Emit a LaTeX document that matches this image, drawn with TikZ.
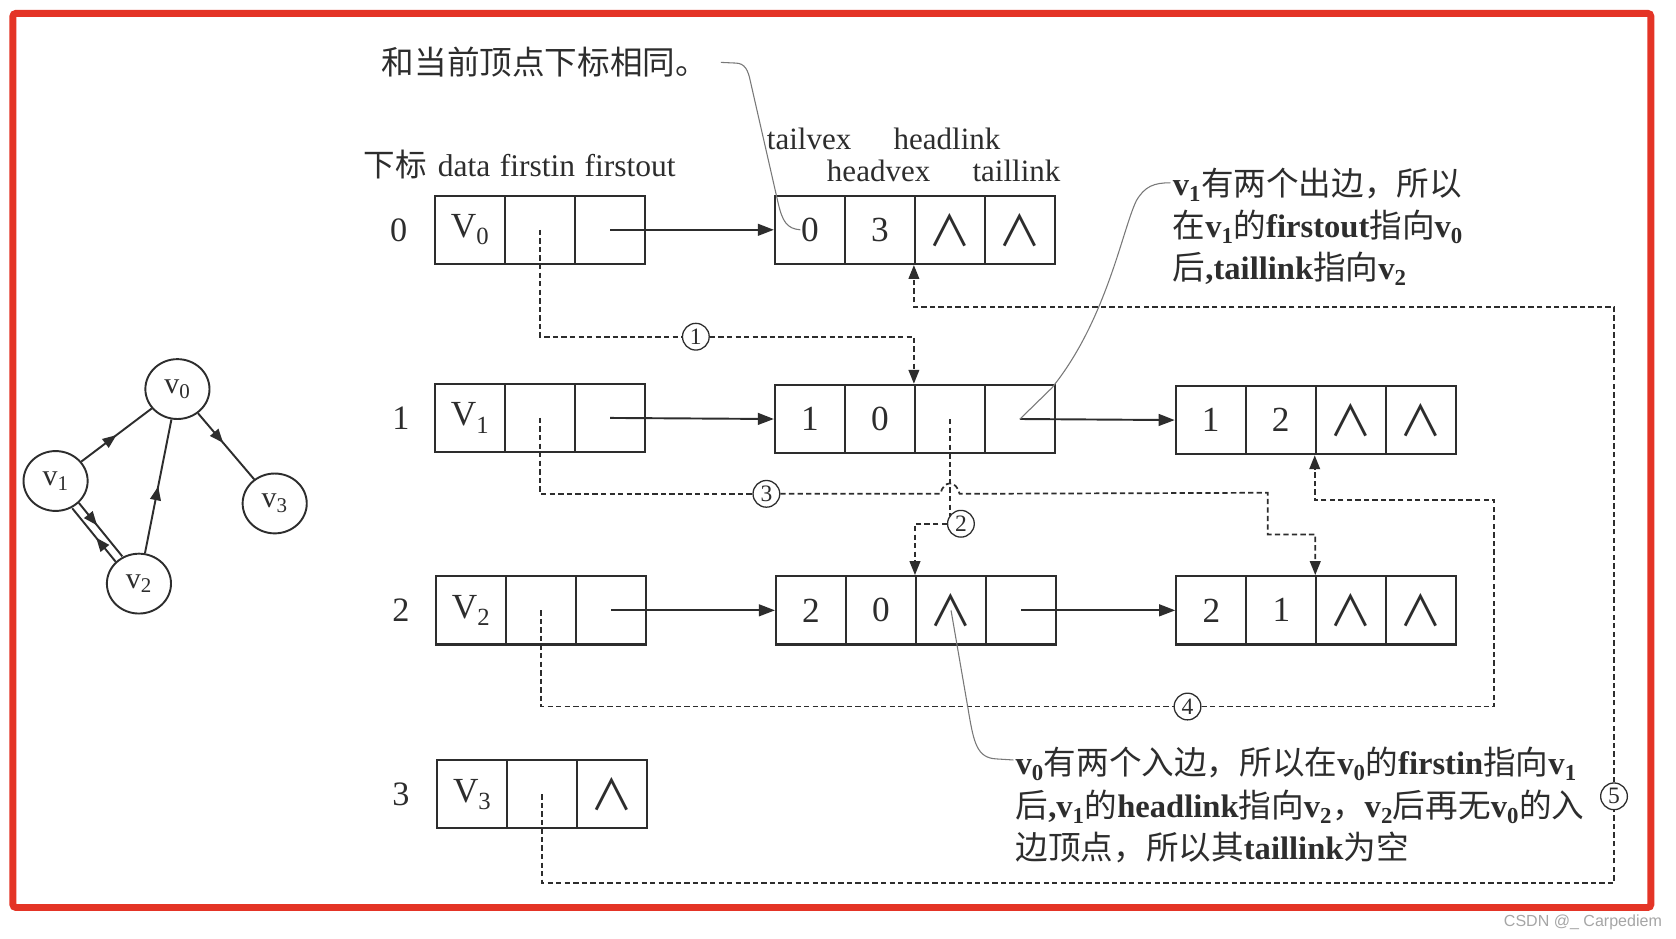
\documentclass[tikz,border=0pt]{standalone}
\usepackage{fontspec}
\setmainfont{Liberation Serif}
\newfontfamily\cjk{Noto Sans CJK SC}
\newfontfamily\dvs{DejaVu Sans}
\newfontfamily\wmfont{Liberation Sans}
\usetikzlibrary{arrows.meta,shapes.geometric,decorations.markings,calc}
\definecolor{ink}{RGB}{45,45,45}
\definecolor{frame}{RGB}{228,52,38}
\definecolor{thin}{RGB}{120,120,120}
\newcommand{\zh}[1]{{\cjk\mdseries #1}}
\newcommand{\tsub}[1]{\textsubscript{#1}}
\newcommand{\vsub}[1]{v\textsubscript{#1}}
\newcommand{\andsym}{{\cjk\fontsize{40}{40}\selectfont ∧}}
\tikzset{
 cell/.style={draw=ink, line width=2pt, minimum width=65.5pt, minimum height=64pt, inner sep=0pt, text=ink, font=\fontsize{33}{36}\selectfont},
 txt/.style={inner sep=0pt, text=ink, font=\fontsize{29}{32}\selectfont},
 arr/.style={draw=ink, line width=1.8pt, -{Triangle[length=15pt,width=11pt]}},
 dsh/.style={draw=ink, line width=1.6pt, dash pattern=on 5pt off 3pt},
 dtip/.style={-{Triangle[length=13pt,width=10pt]}},
 lab/.style={circle, draw=ink, line width=1.2pt, minimum size=25pt, inner sep=0pt, fill=white, text=ink, font=\fontsize{22}{22}\selectfont},
 lead/.style={draw=thin, line width=1pt},
 ann/.style={align=left, inner sep=0pt, text=ink, font=\fontsize{30.5}{39.5}\selectfont\bfseries},
 gnode/.style={ellipse, draw=ink, line width=1.8pt, minimum width=60pt, minimum height=56pt, inner sep=0pt, text=ink, font=\fontsize{28}{30}\selectfont},
 gedge/.style={draw=ink, line width=1.8pt, postaction=decorate, decoration={markings, mark=at position #1 with {\arrow{Triangle[length=13pt,width=10pt]}}}},
 gedge/.default=0.5,
}
\begin{document}
\begin{tikzpicture}[x=1pt,y=-1pt]
\fill[white] (0,0) rectangle (1568,878);
\useasboundingbox (0,0) rectangle (1568,878);
\draw[frame, line width=6.5pt, rounded corners=3pt] (12,12.5) rectangle (1544.5,849);

% ---- graph ----
\node[gnode] (g0) at (166,364) {\vsub{0}};
\node[gnode] (g1) at (52,450) {\vsub{1}};
\node[gnode] (g2) at (130,546) {\vsub{2}};
\node[gnode] (g3) at (257,471) {\vsub{3}};
\draw[gedge=0.5] (g1) -- (g0);
\draw[gedge=0.45] (g0) -- (g3);
\draw[gedge=0.5] (g2) -- (g0);
\draw[gedge=0.42, transform canvas={shift={(3.1,-2.5)}}] (g1) -- (g2);
\draw[gedge=0.45, transform canvas={shift={(-3.1,2.5)}}] (g2) -- (g1);

% ---- texts ----
\node[txt, anchor=base west, font=\fontsize{30.5}{32}\selectfont] (title) at (357,70) {\zh{和当前顶点下标相同。}};
\node[txt, anchor=base west, font=\fontsize{29.5}{32}\selectfont] (hdr) at (340,165) {\zh{下标}\hspace{3pt} data\hspace{1.5pt} firstin\hspace{1.5pt} firstout};
\node[txt] (hTV) at (757,130) {tailvex};
\node[txt] (hHL) at (886,130) {headlink};
\node[txt] (hHV) at (822,160) {headvex};
\node[txt] (hTL) at (951,160) {taillink};
\node[txt, font=\fontsize{32}{34}\selectfont] (r0) at (373,215) {0};
\node[txt, font=\fontsize{32}{34}\selectfont] (r1) at (375,391) {1};
\node[txt, font=\fontsize{32}{34}\selectfont] (r2) at (375,571) {2};
\node[txt, font=\fontsize{32}{34}\selectfont] (r3) at (375,743) {3};

% ---- vertex table ----
\node[cell] (v0d) at (439.75,215) {V\tsub{0}};
\node[cell] (v0i) at (505.25,215) {};
\node[cell] (v0o) at (570.75,215) {};
\node[cell] (v1d) at (439.75,391) {V\tsub{1}};
\node[cell] (v1i) at (505.25,391) {};
\node[cell] (v1o) at (570.75,391) {};
\node[cell] (v2d) at (440.75,571) {V\tsub{2}};
\node[cell] (v2i) at (506.25,571) {};
\node[cell] (v2o) at (571.75,571) {};
\node[cell] (v3d) at (441.75,743) {V\tsub{3}};
\node[cell] (v3i) at (507.25,743) {};
\node[cell] (v3o) at (572.75,743) {\andsym};

% ---- edge nodes ----
\node[cell] (eA0) at (757.75,215) {0};
\node[cell] (eA1) at (823.25,215) {3};
\node[cell] (eA2) at (888.75,215) {\andsym};
\node[cell] (eA3) at (954.25,215) {\andsym};
\node[cell] (eB0) at (757.75,392) {1};
\node[cell] (eB1) at (823.25,392) {0};
\node[cell] (eB2) at (888.75,392) {};
\node[cell] (eB3) at (954.25,392) {};
\node[cell] (eC0) at (1132.75,393) {1};
\node[cell] (eC1) at (1198.25,393) {2};
\node[cell] (eC2) at (1263.75,393) {\andsym};
\node[cell] (eC3) at (1329.25,393) {\andsym};
\node[cell] (eD0) at (758.75,571) {2};
\node[cell] (eD1) at (824.25,571) {0};
\node[cell] (eD2) at (889.75,571) {\andsym};
\node[cell] (eD3) at (955.25,571) {};
\node[cell] (eE0) at (1133.25,571) {2};
\node[cell] (eE1) at (1198.75,571) {1};
\node[cell] (eE2) at (1264.25,571) {\andsym};
\node[cell] (eE3) at (1329.75,571) {\andsym};

% ---- solid arrows ----
\draw[arr] (v0o.center) -- (eA0.west);
\draw[arr] (v1o.center) -- (eB0.west);
\draw[arr] (v2o.center) -- (eD0.west);
\draw[arr] (eB3.center) -- (eC0.west);
\draw[arr] (eD3.center) -- (eE0.west);

% ---- dashed links ----
\node[lab] (n1) at (651,315) {1};
\node[lab] (n2) at (899,490) {2};
\node[lab] (n3) at (717,462) {3};
\node[lab] (n4) at (1111,661) {4};
\node[lab] (n5) at (1510,745) {5};
\coordinate (t3a) at (1186,461);
\coordinate (t3b) at (1186,500);
\coordinate (t4a) at (1398,661);
\coordinate (t4b) at (1398,468);
\coordinate (t5a) at (1510,826);
\coordinate (t5b) at (1510,287);

\draw[dsh] (v0i.center) |- (n1);
\draw[dsh,dtip] (n1) -| (eB2.north west);

\draw[dsh] (eB2.center) -- ($(eB2.center |- n2.center)+(0,-7)$);
\draw[dsh,dtip] (n2) -| (eD2.north west);

\draw[dsh] (v1i.center) |- (n3);
\draw[dsh,dtip] (n3) -- ($(eB2.center |- n3.center)+(-9,0)$)
  .. controls +(3,-13) and +(-3,-13) .. ($(eB2.center |- n3.center)+(9,0)$)
  -- (t3a) -- (t3b) -| (eE2.north west);

\draw[dsh] (v2i.center) |- (n4);
\draw[dsh,dtip] (n4) -- (t4a) -- (t4b) -| (eC2.south west);

\draw[dsh] (v3i.center) |- (t5a) -- (n5);
\draw[dsh,dtip] (n5) -- (t5b) -| (eA2.south west);

% ---- annotations ----
\node[ann, anchor=north west] (annA) at (1097,157)
  {\vsub{1}\zh{有两个出边，所以}\\
   \zh{在}\vsub{1}\zh{的}firstout\zh{指向}\vsub{0}\\
   \zh{后},taillink\zh{指向}\vsub{2}};
\node[ann, anchor=north west] (annB) at (950,699)
  {\vsub{0}\zh{有两个入边，所以在}\vsub{0}\zh{的}firstin\zh{指向}\vsub{1}\\
   \zh{后},\vsub{1}\zh{的}headlink\zh{指向}\vsub{2}\zh{，}\vsub{2}\zh{后再无}\vsub{0}\zh{的入}\\
   \zh{边顶点，所以其}taillink\zh{为空}};

\draw[lead] ([xshift=12pt]title.east) -- (688,59) .. controls (697,59) and (700,66) .. (702,76)
  -- (728,190) .. controls (732,207) and (736,214) .. ([xshift=-9pt]eA0.center);
\draw[lead] (eB3.center) -- (984,363) .. controls (1035,300) and (1050,215) .. (1063,188)
  .. controls (1071,174) and (1080,171) .. ($(annA.north west)+(-2,14)$);
\draw[lead] (eD2.center) -- (906,665) .. controls (911,695) and (914,709) .. (932,710)
  -- ($(annB.north west)+(-2,12)$);

\node[anchor=base east, inner sep=0pt, text=black!35, font=\wmfont\fontsize{15}{15}\selectfont] (wm) at (1555,867) {CSDN @\_ Carpediem};
\end{tikzpicture}
\end{document}
